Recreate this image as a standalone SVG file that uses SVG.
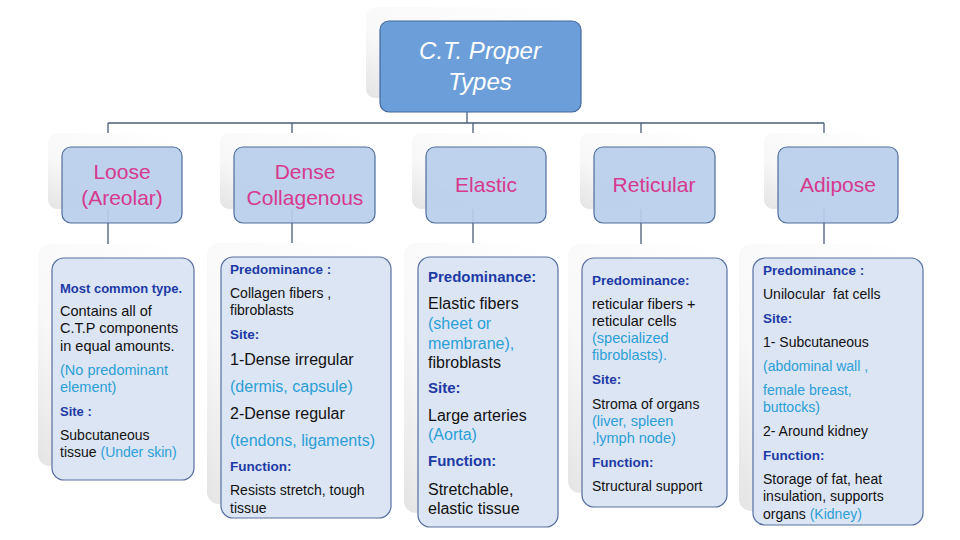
<svg xmlns="http://www.w3.org/2000/svg" width="960" height="540" viewBox="0 0 960 540">
<defs>
<linearGradient id="sh" x1="1" y1="0" x2="0" y2="1">
<stop offset="0" stop-color="#ffffff"/>
<stop offset="0.65" stop-color="#f8f8f8"/>
<stop offset="1" stop-color="#e4e4e4"/>
</linearGradient>
<style>
.sh{fill:url(#sh);}
.top{fill:#6c9fd9;stroke:#45689a;stroke-width:1.2;}
.hdr{fill:#b8cdeb;stroke:#4f6e9c;stroke-width:1.2;fill-opacity:0.92;}
.det{fill:#dce5f4;stroke:#5670a0;stroke-width:1.2;}
.ln{stroke:#4a5d78;stroke-width:1.3;fill:none;}
text{font-family:"Liberation Sans",Arial,sans-serif;white-space:pre;}
.tt{fill:#ffffff;font-size:24px;font-style:italic;text-anchor:middle;}
.ht{fill:#d6398e;font-size:21px;text-anchor:middle;}
.b{fill:#1e3aa6;font-weight:bold;}
.k{fill:#111111;}
.c{fill:#2b9fd7;}
</style>
</defs>
<rect width="960" height="540" fill="#ffffff"/>
<g id="shadows">
<rect class="sh" x="366" y="7" width="201" height="91" rx="9"/>
<rect class="sh" x="48" y="133" width="120" height="76" rx="9"/>
<rect class="sh" x="220" y="133" width="141" height="76" rx="9"/>
<rect class="sh" x="412" y="133" width="120" height="76" rx="9"/>
<rect class="sh" x="580" y="133" width="121" height="76" rx="9"/>
<rect class="sh" x="764" y="133" width="120" height="76" rx="9"/>
<rect class="sh" x="38" y="244" width="142" height="222" rx="12"/>
<rect class="sh" x="207" y="243" width="170" height="261" rx="12"/>
<rect class="sh" x="404" y="243" width="140" height="270" rx="12"/>
<rect class="sh" x="568" y="244" width="145" height="249" rx="12"/>
<rect class="sh" x="739" y="244" width="170" height="267" rx="12"/>
</g>
<g id="connectors">
<line class="ln" x1="467" y1="100" x2="467" y2="123"/>
<line class="ln" x1="108" y1="123" x2="824" y2="123"/>
<line class="ln" x1="108" y1="123" x2="108" y2="133"/>
<line class="ln" x1="292" y1="123" x2="292" y2="133"/>
<line class="ln" x1="473" y1="123" x2="473" y2="133"/>
<line class="ln" x1="641" y1="123" x2="641" y2="133"/>
<line class="ln" x1="824" y1="123" x2="824" y2="133"/>
<line class="ln" x1="108" y1="209" x2="108" y2="244"/>
<line class="ln" x1="292" y1="209" x2="292" y2="243"/>
<line class="ln" x1="473" y1="209" x2="473" y2="243"/>
<line class="ln" x1="641" y1="209" x2="641" y2="244"/>
<line class="ln" x1="824" y1="209" x2="824" y2="244"/>
</g>
<g id="root">
<rect class="top" x="380" y="21" width="201" height="91" rx="9"/>
<text class="tt" x="480" y="59">C.T. Proper</text>
<text class="tt" x="480" y="90">Types</text>
</g>
<g id="loose">
<rect class="hdr" x="62" y="147" width="120" height="76" rx="9"/>
<text class="ht" x="122" y="179">Loose</text>
<text class="ht" x="122" y="205">(Areolar)</text>
</g>
<g id="dense">
<rect class="hdr" x="234" y="147" width="141" height="76" rx="9"/>
<text class="ht" x="305" y="179">Dense</text>
<text class="ht" x="305" y="205">Collagenous</text>
</g>
<g id="elastic">
<rect class="hdr" x="426" y="147" width="120" height="76" rx="9"/>
<text class="ht" x="486" y="192">Elastic</text>
</g>
<g id="reticular">
<rect class="hdr" x="594" y="147" width="121" height="76" rx="9"/>
<text class="ht" x="654" y="192">Reticular</text>
</g>
<g id="adipose">
<rect class="hdr" x="778" y="147" width="120" height="76" rx="9"/>
<text class="ht" x="838" y="192">Adipose</text>
</g>
<g id="loose-details">
<rect class="det" x="52" y="258" width="142" height="222" rx="12"/>
<text class="b" x="60" y="292.5" font-size="13">Most common type.</text>
<text class="k" x="60" y="316" font-size="14.5">Contains all of</text>
<text class="k" x="60" y="333" font-size="14.5">C.T.P components</text>
<text class="k" x="60" y="351" font-size="14.5">in equal amounts.</text>
<text class="c" x="60" y="375" font-size="14.5">(No predominant</text>
<text class="c" x="60" y="392" font-size="14.5">element)</text>
<text class="b" x="60" y="415.5" font-size="13">Site :</text>
<text class="k" x="60" y="440" font-size="14">Subcutaneous</text>
<text class="k" x="60" y="457" font-size="14">tissue <tspan class="c">(Under skin)</tspan></text>
</g>
<g id="dense-details">
<rect class="det" x="221" y="257" width="170" height="261" rx="12"/>
<text class="b" x="230" y="273.5" font-size="13.5">Predominance :</text>
<text class="k" x="230" y="298" font-size="14">Collagen fibers ,</text>
<text class="k" x="230" y="315" font-size="14">fibroblasts</text>
<text class="b" x="230" y="338.5" font-size="13.5">Site:</text>
<text class="k" x="230" y="364.5" font-size="16">1-Dense irregular</text>
<text class="c" x="230" y="391.5" font-size="16">(dermis, capsule)</text>
<text class="k" x="230" y="418.5" font-size="16">2-Dense regular</text>
<text class="c" x="230" y="445.5" font-size="16">(tendons, ligaments)</text>
<text class="b" x="230" y="470.5" font-size="13.5">Function:</text>
<text class="k" x="230" y="495" font-size="14">Resists stretch, tough</text>
<text class="k" x="230" y="513" font-size="14">tissue</text>
</g>
<g id="elastic-details">
<rect class="det" x="418" y="257" width="140" height="270" rx="12"/>
<text class="b" x="428" y="282" font-size="15">Predominance:</text>
<text class="k" x="428" y="308.5" font-size="16">Elastic fibers</text>
<text class="c" x="428" y="328.5" font-size="16">(sheet or</text>
<text class="c" x="428" y="348.5" font-size="16">membrane),</text>
<text class="k" x="428" y="367.5" font-size="16">fibroblasts</text>
<text class="b" x="428" y="393" font-size="15">Site:</text>
<text class="k" x="428" y="420.5" font-size="16">Large arteries</text>
<text class="c" x="428" y="439.5" font-size="16">(Aorta)</text>
<text class="b" x="428" y="466" font-size="15">Function:</text>
<text class="k" x="428" y="494.5" font-size="16">Stretchable,</text>
<text class="k" x="428" y="513.5" font-size="16">elastic tissue</text>
</g>
<g id="reticular-details">
<rect class="det" x="582" y="258" width="145" height="249" rx="12"/>
<text class="b" x="592" y="284.5" font-size="13.5">Predominance:</text>
<text class="k" x="592" y="309" font-size="14.5">reticular fibers +</text>
<text class="k" x="592" y="326" font-size="14.5">reticular cells</text>
<text class="c" x="592" y="343" font-size="14.5">(specialized</text>
<text class="c" x="592" y="360" font-size="14.5">fibroblasts).</text>
<text class="b" x="592" y="383.5" font-size="13.5">Site:</text>
<text class="k" x="592" y="409" font-size="14">Stroma of organs</text>
<text class="c" x="592" y="426" font-size="14.5">(liver, spleen</text>
<text class="c" x="592" y="443" font-size="14.5">,lymph node)</text>
<text class="b" x="592" y="466.5" font-size="13.5">Function:</text>
<text class="k" x="592" y="491" font-size="14">Structural support</text>
</g>
<g id="adipose-details">
<rect class="det" x="753" y="258" width="170" height="267" rx="12"/>
<text class="b" x="763" y="274.5" font-size="13.5">Predominance :</text>
<text class="k" x="763" y="299" font-size="14">Unilocular  fat cells</text>
<text class="b" x="763" y="322.5" font-size="13.5">Site:</text>
<text class="k" x="763" y="347" font-size="14">1- Subcutaneous</text>
<text class="c" x="763" y="371" font-size="14">(abdominal wall ,</text>
<text class="c" x="763" y="395" font-size="14">female breast,</text>
<text class="c" x="763" y="412" font-size="14">buttocks)</text>
<text class="k" x="763" y="436" font-size="14">2- Around kidney</text>
<text class="b" x="763" y="459.5" font-size="13.5">Function:</text>
<text class="k" x="763" y="484" font-size="14">Storage of fat, heat</text>
<text class="k" x="763" y="501" font-size="14">insulation, supports</text>
<text class="k" x="763" y="519" font-size="14">organs <tspan class="c">(Kidney)</tspan></text>
</g>
</svg>
